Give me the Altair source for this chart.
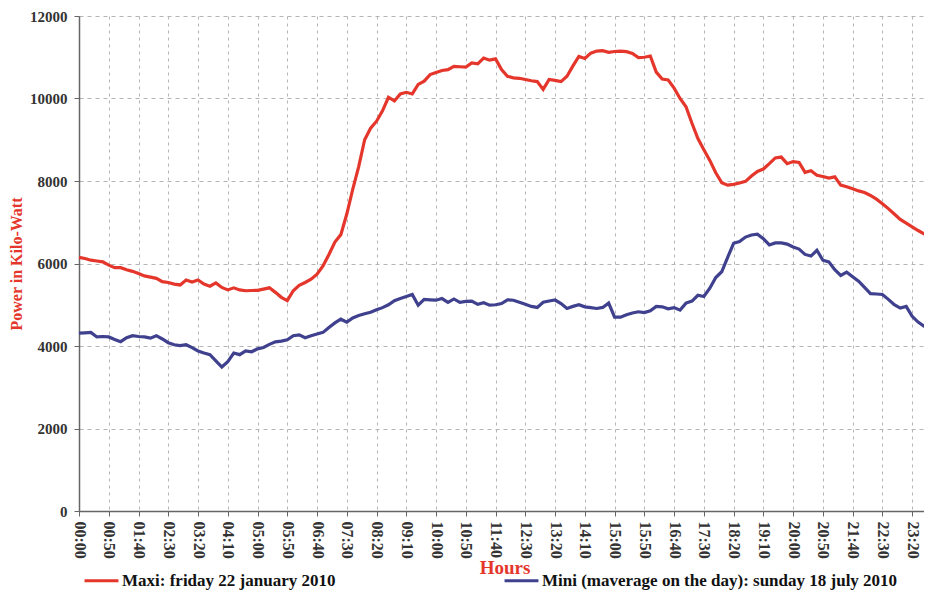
import altair as alt
import pandas as pd

# 10-minute time slots of the day
times = [f"{m // 60:02d}:{m % 60:02d}" for m in range(0, 1440, 10)]
tick_labels = [f"{m // 60:02d}:{m % 60:02d}" for m in range(0, 1440, 50)]

maxi = [6150, 6120, 6080, 6060, 6040, 5960, 5900, 5900, 5850, 5810,
        5760, 5700, 5670, 5640, 5560, 5540, 5500, 5480, 5600, 5550,
        5600, 5500, 5450, 5530, 5420, 5360, 5410, 5360, 5340, 5345,
        5350, 5380, 5410, 5300, 5180, 5100, 5340, 5470, 5540, 5620,
        5740, 5940, 6220, 6520, 6700, 7200, 7800, 8350, 9000, 9280,
        9450, 9700, 10030, 9940, 10110, 10150, 10110, 10340, 10420, 10580,
        10630, 10680, 10700, 10780, 10770, 10760, 10860, 10840, 10980, 10930,
        10960, 10700, 10540, 10500, 10490, 10460, 10430, 10410, 10220, 10460,
        10440, 10410, 10540, 10790, 11020, 10970, 11100, 11150, 11160, 11120,
        11140, 11150, 11135, 11090, 10990, 11000, 11030, 10640, 10470, 10450,
        10250, 10000, 9800, 9400, 9030, 8760, 8500, 8200, 7960, 7900,
        7920, 7950, 7990, 8120, 8230, 8290, 8420, 8560, 8580, 8420,
        8470, 8450, 8210, 8250, 8140, 8110, 8070, 8100, 7900, 7860,
        7810, 7760, 7720, 7650, 7560, 7450, 7330, 7200, 7070, 6980,
        6890, 6800, 6720, 6650]

mini = [4310, 4320, 4330, 4220, 4230, 4220, 4160, 4105, 4200, 4250,
        4230, 4220, 4190, 4250, 4170, 4080, 4030, 4010, 4030, 3960,
        3880, 3830, 3790, 3640, 3490, 3620, 3830, 3790, 3880, 3860,
        3930, 3965, 4040, 4100, 4120, 4150, 4250, 4270, 4200, 4250,
        4290, 4330, 4450, 4560, 4650, 4580, 4680, 4740, 4780, 4820,
        4880, 4930, 5000, 5100, 5150, 5200, 5250, 4990, 5130, 5120,
        5110, 5150, 5060, 5140, 5060, 5080, 5090, 5010, 5050, 4990,
        5000, 5030, 5120, 5110, 5060, 5010, 4960, 4935, 5060, 5090,
        5115, 5030, 4910, 4960, 5000, 4950, 4930, 4910, 4935, 5040,
        4700, 4700, 4760, 4800, 4830, 4810, 4855, 4960, 4950, 4900,
        4930, 4870, 5040, 5090, 5230, 5200, 5400, 5660, 5800, 6150,
        6490, 6530, 6640, 6690, 6710, 6600, 6450, 6500, 6500, 6470,
        6400, 6350, 6220, 6180, 6320, 6080, 6040, 5850, 5710, 5790,
        5680, 5570, 5420, 5270, 5260, 5250, 5130, 5000, 4920, 4960,
        4720, 4580, 4480, 4460]

series_names = ["Maxi: friday 22 january 2010",
                "Mini (maverage on the day): sunday 18 july 2010"]
series_colors = ["#e5362c", "#3f418e"]

df = pd.concat([
    pd.DataFrame({"time": times, "power": maxi, "series": series_names[0]}),
    pd.DataFrame({"time": times, "power": mini, "series": series_names[1]}),
])

serif = "Liberation Serif"

chart = alt.Chart(df).mark_line(strokeWidth=3.2).encode(
    x=alt.X("time:O", sort=times,
            scale=alt.Scale(type="point", padding=0, range=[0, 851]),
            axis=alt.Axis(values=tick_labels, title="Hours", labelAngle=90,
                          labelFont=serif, labelFontWeight="bold", labelFontSize=16,
                          labelColor="#333333", labelPadding=5,
                          titleFont=serif, titleFontWeight="bold", titleFontSize=19,
                          titleColor="#e5362c", titlePadding=0,
                          grid=True, gridDash=[3, 4], gridColor="#b5b5b5",
                          domainColor="#666666", domainWidth=1.5,
                          tickColor="#666666", tickSize=5)),
    y=alt.Y("power:Q",
            scale=alt.Scale(domain=[0, 12000], nice=False),
            axis=alt.Axis(values=[0, 2000, 4000, 6000, 8000, 10000, 12000],
                          title="Power in Kilo-Watt", format="d",
                          labelFont=serif, labelFontWeight="bold", labelFontSize=15,
                          labelColor="#333333", labelPadding=7,
                          titleFont=serif, titleFontWeight="bold", titleFontSize=16,
                          titleColor="#e5362c", titlePadding=5,
                          grid=True, gridDash=[4, 4], gridColor="#b5b5b5",
                          domainColor="#666666", domainWidth=1.5,
                          tickColor="#666666", tickSize=5)),
    color=alt.Color("series:N",
                    scale=alt.Scale(domain=series_names, range=series_colors),
                    legend=alt.Legend(orient="none", direction="horizontal",
                                      columns=2, legendX=4, legendY=546,
                                      title=None, symbolType="stroke",
                                      symbolSize=1150, symbolStrokeWidth=3,
                                      labelFont=serif, labelFontWeight="bold",
                                      labelFontSize=17, labelColor="#111111",
                                      labelOffset=2, labelLimit=500,
                                      columnPadding=162)),
).properties(
    width=845, height=495,
    autosize=alt.AutoSizeParams(type="none"),
    padding={"left": 71, "top": 8, "right": 0, "bottom": 80},
).configure_view(strokeWidth=0)

chart.save("out.html", embed_options={"renderer": "svg", "actions": False})
